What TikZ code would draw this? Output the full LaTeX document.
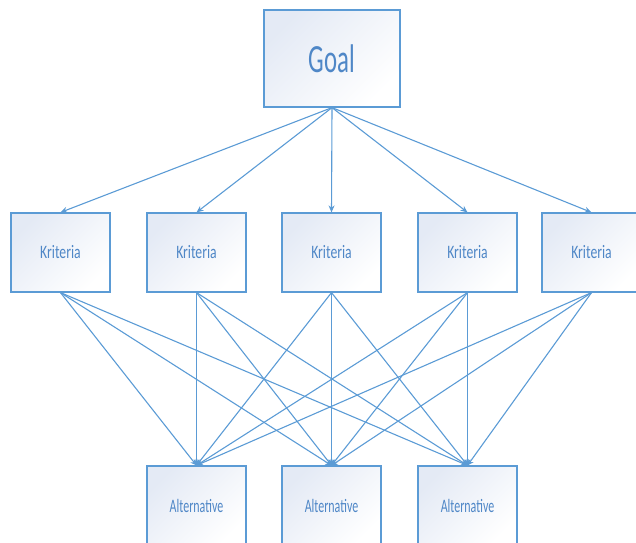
\documentclass[tikz,border=0pt]{standalone}
\usepackage{fontspec}
\setmainfont{Carlito}
\usetikzlibrary{arrows.meta}
\definecolor{edge}{HTML}{5B9BD5}
\definecolor{ink}{HTML}{4F87C7}
\definecolor{tint}{HTML}{E4EAF5}
\tikzset{
  box/.style={draw=edge, line width=1.2pt, inner sep=0pt,
    top color=tint, bottom color=white, shading angle=45,
    text=ink, minimum width=99pt, minimum height=79pt},
  goalbox/.style={box, minimum width=136pt, minimum height=97pt},
  link/.style={draw=edge, line width=1.1pt,
    -{Stealth[length=7pt,width=6pt]}},
  sublink/.style={link, -{Stealth[length=6pt,width=6pt]}},
}
\newcommand{\goaltext}[1]{\scalebox{0.62}[1]{\fontsize{40}{40}\selectfont #1}}
\newcommand{\kritext}[1]{\scalebox{0.72}[1]{\fontsize{19}{19}\selectfont #1}}
\newcommand{\alttext}[1]{\scalebox{0.63}[1]{\fontsize{19}{19}\selectfont #1}}
\begin{document}
\begin{tikzpicture}[x=1pt,y=-1pt]
\useasboundingbox (0,0) rectangle (636,542);
% top level
\node[goalbox] (goal) at (332,58.5) {\goaltext{Goal}};
% criteria row
\node[box] (k1) at (60.5,252.5)  {\kritext{Kriteria}};
\node[box] (k2) at (196.5,252.5) {\kritext{Kriteria}};
\node[box] (k3) at (331.5,252.5) {\kritext{Kriteria}};
\node[box] (k4) at (467.5,252.5) {\kritext{Kriteria}};
\node[box] (k5) at (591.5,252.5) {\kritext{Kriteria}};
% alternatives row
\node[box] (a1) at (196.5,505.5) {\alttext{Alternative}};
\node[box] (a2) at (331.5,505.5) {\alttext{Alternative}};
\node[box] (a3) at (467.5,505.5) {\alttext{Alternative}};
% goal to criteria
\foreach \k in {k1,k2,k3,k4,k5}
  \draw[link] (goal.south) -- (\k.north);
% criteria to alternatives
\foreach \k in {k1,k2,k3,k4,k5}
  \foreach \a in {a1,a2,a3}
    \draw[sublink] (\k.south) -- (\a.north);
\end{tikzpicture}
\end{document}
